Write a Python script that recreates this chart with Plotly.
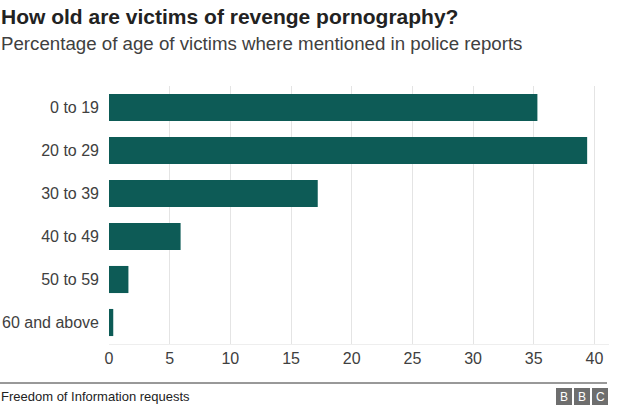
import plotly.graph_objects as go

W, H = 640, 413

ages = ["0 to 19", "20 to 29", "30 to 39", "40 to 49", "50 to 59", "60 and above"]
percent = [35.3, 39.4, 17.2, 5.9, 1.6, 0.35]
x_ticks = [0, 5, 10, 15, 20, 25, 30, 35, 40]

title = "How old are victims of revenge pornography?"
subtitle = "Percentage of age of victims where mentioned in police reports"
source = "Freedom of Information requests"

# plot area in pixels
L, R, T, B = 109, 609, 86, 344


def px(x):
    return (x - L) / (R - L)


def py(y):
    return (B - y) / (B - T)


FONT = "Liberation Sans, Arial, sans-serif"

fig = go.Figure(go.Bar(
    x=percent,
    y=ages,
    orientation="h",
    marker_color="#0d5b56",
    marker_line_width=0,
    hoverinfo="x+y",
))

fig.update_layout(
    width=W, height=H,
    margin=dict(l=L, r=W - R, t=T, b=H - B, pad=0),
    paper_bgcolor="white",
    plot_bgcolor="white",
    bargap=0.37,
    showlegend=False,
    font=dict(family=FONT, color="#404040", size=16),
)

fig.update_xaxes(
    range=[0, 41.2],
    tickvals=x_ticks,
    showgrid=True, gridcolor="#e4e4e4", gridwidth=1,
    zeroline=False,
    showline=True, linecolor="#eeeeee",
    ticks="", ticklen=0,
    tickfont=dict(size=16, color="#404040"),
    automargin=False,
    fixedrange=True,
)
fig.update_yaxes(
    autorange="reversed",
    showgrid=False, zeroline=False,
    ticks="", ticklabelstandoff=9,
    tickfont=dict(size=16, color="#404040"),
    automargin=False,
    fixedrange=True,
)

ann = [
    dict(text=f"<b>{title}</b>", x=px(0), y=py(17), xanchor="left", yanchor="middle",
         font=dict(size=21, color="#222222")),
    dict(text=subtitle, x=px(0), y=py(44), xanchor="left", yanchor="middle",
         font=dict(size=18.7, color="#404040")),
    dict(text=source, x=px(0), y=py(396), xanchor="left", yanchor="middle",
         font=dict(size=13, color="#222222")),
]

shapes = [
    dict(type="line", xref="paper", yref="paper", x0=px(0), x1=px(607),
         y0=py(383), y1=py(383), line=dict(color="#333333", width=1)),
]

# BBC blocks
for i, letter in enumerate("BBC"):
    x0 = 556 + i * 18
    shapes.append(dict(type="rect", xref="paper", yref="paper",
                       x0=px(x0), x1=px(x0 + 16), y0=py(405), y1=py(388),
                       fillcolor="#6e6e6e", line_width=0))
    ann.append(dict(text=letter, x=px(x0 + 8), y=py(396.5), xanchor="center",
                    yanchor="middle", font=dict(size=12, color="white")))

for a in ann:
    a.update(xref="paper", yref="paper", showarrow=False, borderpad=0)

fig.update_layout(annotations=ann, shapes=shapes)

fig.write_html("out.html", config={"displayModeBar": False},
               post_script="document.body.style.margin='0';")
